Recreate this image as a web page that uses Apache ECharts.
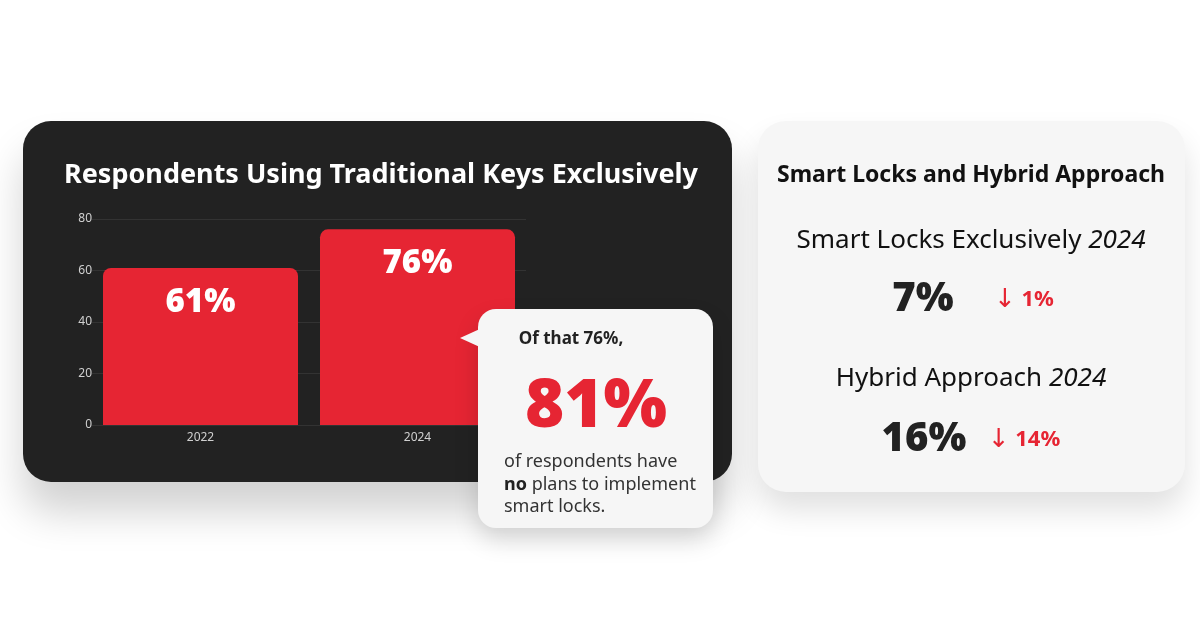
<!DOCTYPE html>
<html><head><meta charset="utf-8">
<script src="https://cdn.jsdelivr.net/npm/echarts@6/dist/echarts.min.js"></script>
<style>html,body{margin:0;padding:0;background:#fff}#c{width:1200px;height:628px}</style>
</head><body><div id="c"></div>
<script>
var categories = ['2022', '2024'];
var values = [61, 76];
var yTicks = [0, 20, 40, 60, 80];
var chartTitle = 'Respondents Using Traditional Keys Exclusively';
var calloutLead = 'Of that 76%,';
var calloutValue = '81%';
var calloutLines = ['of respondents have', '{b|no} plans to implement', 'smart locks.'];
var sideTitle = 'Smart Locks and Hybrid Approach';
var sideLabels = ['Smart Locks Exclusively', 'Hybrid Approach'];
var sideYear = '2024';
var sideValues = ['7%', '16%'];
var sideChanges = ['1%', '14%'];

var F = '"Noto Sans", sans-serif';
var RED = '#e62533';
var chart = echarts.init(document.getElementById('c'), null, {renderer: 'canvas'});

var graphics = [
  {type: 'rect', z: -10, shape: {x: 23, y: 121, width: 709, height: 361, r: 28},
   style: {fill: '#222222', shadowBlur: 40, shadowOffsetY: 30, shadowColor: 'rgba(0,0,0,0.18)'}},
  {type: 'text', z: 5, style: {x: 381, y: 175, text: chartTitle, fill: '#fff', font: 'bold 27px ' + F, textAlign: 'center', textVerticalAlign: 'middle'}},
  {type: 'rect', z: -10, shape: {x: 758, y: 121, width: 427, height: 371, r: 28},
   style: {fill: '#f6f6f6', shadowBlur: 30, shadowOffsetY: 18, shadowColor: 'rgba(0,0,0,0.12)'}},
  {type: 'text', z: 5, style: {x: 971, y: 175, text: sideTitle, fill: '#111', font: 'bold 23px ' + F, textAlign: 'center', textVerticalAlign: 'middle'}}
];

var rowY = [241, 379];
var numY = [300, 440];
var numX = [923, 924];
var chgX = [1024, 1024];
for (var i = 0; i < sideLabels.length; i++) {
  graphics.push({type: 'text', z: 5, style: {x: 971, y: rowY[i], text: '{n|' + sideLabels[i] + ' }{i|' + sideYear + '}',
    textAlign: 'center', textVerticalAlign: 'middle',
    rich: {n: {font: '26px ' + F, fill: '#111'}, i: {font: 'italic 26px ' + F, fill: '#111'}}}});
  graphics.push({type: 'text', z: 5, style: {x: numX[i], y: numY[i], text: sideValues[i], fill: '#222', font: '900 40px ' + F, textAlign: 'center', textVerticalAlign: 'middle'}});
  graphics.push({type: 'text', z: 5, style: {x: chgX[i], y: numY[i], text: '{a|\u2193}{v| ' + sideChanges[i] + '}', textAlign: 'center', textVerticalAlign: 'middle',
    rich: {a: {font: '26px "DejaVu Sans", sans-serif', fill: RED}, v: {font: 'bold 22px ' + F, fill: RED}}}});
}

graphics.push({type: 'rect', z: 20, shape: {x: 478, y: 309, width: 235, height: 219, r: 18},
  style: {fill: '#f6f6f6', shadowBlur: 25, shadowOffsetY: 12, shadowColor: 'rgba(0,0,0,0.15)'}});
graphics.push({type: 'polygon', z: 21, shape: {points: [[460, 338], [482, 328], [482, 348]]}, style: {fill: '#f6f6f6'}});
graphics.push({type: 'text', z: 22, style: {x: 571, y: 339, text: calloutLead, fill: '#222', font: 'bold 17px ' + F, textAlign: 'center', textVerticalAlign: 'middle'}});
graphics.push({type: 'text', z: 22, style: {x: 596, y: 408, text: calloutValue, fill: RED, font: '900 67px ' + F, textAlign: 'center', textVerticalAlign: 'middle'}});
for (var j = 0; j < calloutLines.length; j++) {
  graphics.push({type: 'text', z: 22, style: {x: 504, y: 462 + j * 22.5, text: calloutLines[j], textAlign: 'left', textVerticalAlign: 'middle',
    fill: '#333', font: '18px ' + F, rich: {b: {font: 'bold 18px ' + F, fill: '#222'}}}});
}

chart.setOption({
  animation: false,
  backgroundColor: '#ffffff',
  grid: {left: 92, top: 219, width: 434, height: 206, containLabel: false},
  xAxis: {type: 'category', data: categories,
    axisLine: {show: false}, axisTick: {show: false},
    axisLabel: {color: '#d0d0d0', fontSize: 12, fontFamily: F, margin: 7}},
  yAxis: {type: 'value', min: yTicks[0], max: yTicks[yTicks.length - 1], interval: 20,
    axisLine: {show: false}, axisTick: {show: false},
    axisLabel: {color: '#d0d0d0', fontSize: 12, fontFamily: F, margin: 0},
    splitLine: {lineStyle: {color: '#333333', width: 1}}},
  series: [{type: 'bar', data: values, barWidth: 195, z: 3,
    itemStyle: {color: RED, borderRadius: [8, 8, 0, 0]},
    label: {show: true, position: 'insideTop', distance: 18, formatter: '{c}%', color: '#fff', fontSize: 33, fontWeight: 900, fontFamily: F}}],
  graphic: graphics
});
</script></body></html>
